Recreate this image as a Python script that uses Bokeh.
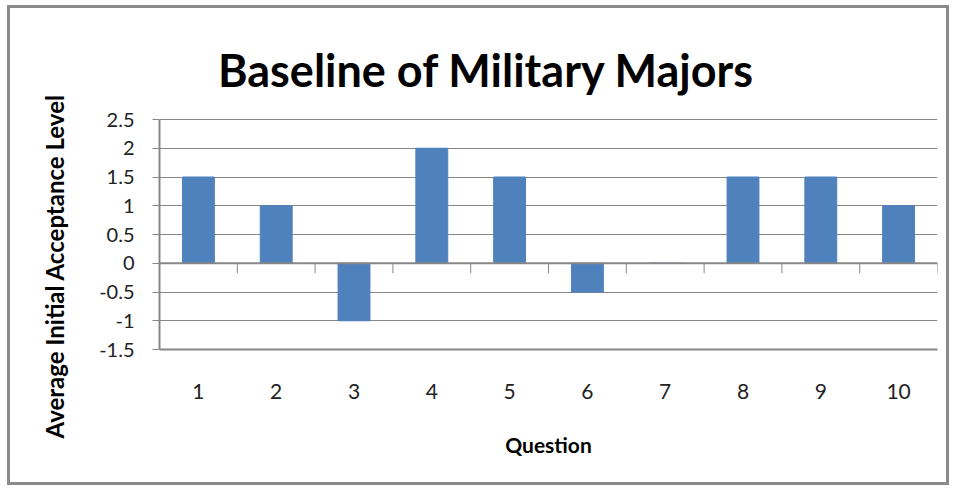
from bokeh.plotting import figure
from bokeh.models import FactorRange, Range1d, FixedTicker, Title, Label, ColumnDataSource
from bokeh.embed import file_html
from bokeh.resources import INLINE

questions = ["1", "2", "3", "4", "5", "6", "7", "8", "9", "10"]
acceptance = [1.5, 1.0, -1.0, 2.0, 1.5, -0.5, 0.0, 1.5, 1.5, 1.0]
y_ticks = [-1.5, -1.0, -0.5, 0.0, 0.5, 1.0, 1.5, 2.0, 2.5]
y_tick_labels = ["-1.5", "-1", "-0.5", "0", "0.5", "1", "1.5", "2", "2.5"]
title_text = "Baseline of Military Majors"
x_title = "Question"
y_title = "Average Initial Acceptance Level"

GRID = "#878787"
BAR = "#4F81BD"
FONT = "Lato"

W, H = 942, 480
PLOT_H = 230          # pixel height of the value area (-1.5 .. 2.5)
TOP_SPACE = 111       # pixels above the value area, used for the title
y0, y1 = y_ticks[0], y_ticks[-1]
y_top = y1 + TOP_SPACE * (y1 - y0) / PLOT_H

p = figure(width=W, height=H, x_range=FactorRange(*questions), y_range=Range1d(y0, y_top),
           output_backend="svg", toolbar_location=None,
           min_border_left=149, min_border_right=15, min_border_top=0, min_border_bottom=139,
           styles={"border": "3px solid #8a8a8a", "margin-left": "7px", "margin-top": "5px"})
p.x_range.range_padding = 0
p.outline_line_color = None
p.background_fill_color = "white"
p.border_fill_color = "white"

src = ColumnDataSource(dict(q=questions, v=acceptance))
p.vbar(x="q", top="v", bottom=0, width=0.41, source=src, fill_color=BAR, line_color=BAR)

# y axis
p.yaxis.bounds = (y0, y1)
p.yaxis.ticker = FixedTicker(ticks=y_ticks)
p.yaxis.major_label_overrides = {t: l for t, l in zip(y_ticks, y_tick_labels)}
p.yaxis.axis_line_color = GRID
p.yaxis.axis_line_width = 2
p.yaxis.major_tick_line_color = GRID
p.yaxis.major_tick_line_width = 1
p.yaxis.major_tick_out = 7
p.yaxis.major_tick_in = 0
p.yaxis.minor_tick_line_color = None
p.yaxis.major_label_standoff = 18
p.yaxis.major_label_text_font = FONT
p.yaxis.major_label_text_font_size = "20px"
p.yaxis.major_label_text_color = "#222222"

# x axis (bottom line at -1.5)
p.xaxis.axis_line_color = GRID
p.xaxis.axis_line_width = 2
p.xaxis.major_tick_line_color = None
p.xaxis.minor_tick_line_color = None
p.xaxis.major_label_standoff = 28
p.xaxis.major_label_text_font = FONT
p.xaxis.major_label_text_font_size = "21px"
p.xaxis.major_label_text_color = "#222222"
p.xaxis.axis_label = x_title
p.xaxis.axis_label_standoff = 30
p.xaxis.axis_label_text_font = FONT
p.xaxis.axis_label_text_font_style = "bold"
p.xaxis.axis_label_text_font_size = "21px"
p.xaxis.axis_label_text_color = "black"

p.xgrid.grid_line_color = None
p.ygrid.grid_line_color = GRID
p.ygrid.grid_line_width = 1

# zero line with category separators
n = len(questions)
p.line(x=[0, n], y=[0, 0], line_color=GRID, line_width=2)
tick_len = 10 * (y1 - y0) / PLOT_H
p.segment(x0=list(range(1, n + 1)), y0=[0] * n, x1=list(range(1, n + 1)), y1=[-tick_len] * n,
          line_color=GRID, line_width=1)

# chart title (inside the frame's upper space)
p.add_layout(Label(x=327, y=PLOT_H + TOP_SPACE - 61, x_units="screen", y_units="screen",
                   text=title_text, text_font=FONT, text_font_style="bold", text_font_size="45px",
                   text_align="center", text_baseline="middle", text_color="black"))

p.add_layout(Title(text=y_title, align="left", offset=-89, standoff=55, vertical_align="bottom",
                   text_font=FONT, text_font_style="bold", text_font_size="24px",
                   text_color="black"), "left")

open("out.html", "w").write(file_html(p, INLINE))
